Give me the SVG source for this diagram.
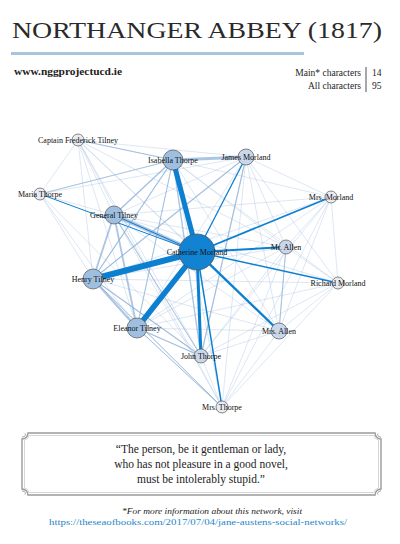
<svg xmlns="http://www.w3.org/2000/svg" width="400" height="544" viewBox="0 0 400 544">
<style>
.lbl{font-family:"Liberation Serif","Times New Roman",serif;font-size:8px;fill:#111;text-anchor:middle}
.n{stroke:#555;stroke-width:0.7}
.main{fill:#1282d2}
.med{fill:#9fbfe0}
.lt{fill:#c9d7ea}
.vlt{fill:#e9ebf3}
.e{stroke:#9dbbdc;stroke-opacity:0.5;stroke-width:0.7;fill:none}
.f{stroke:#8fb2d8;stroke-opacity:0.75;fill:none}
.c{stroke:#0c7fd0;fill:none}
.hd{font-family:"Liberation Serif","Times New Roman",serif;fill:#222}
</style>
<rect width="400" height="544" fill="#fff"/>
<text class="hd" x="12" y="38" font-size="23" fill="#333" style="fill:#2a2a2a" textLength="370" lengthAdjust="spacingAndGlyphs">NORTHANGER ABBEY (1817)</text>
<rect x="11" y="52" width="293" height="3" fill="#a9c5dd"/>
<text class="hd" x="14" y="75" font-size="9.5" font-weight="bold" textLength="108" lengthAdjust="spacingAndGlyphs">www.nggprojectucd.ie</text>
<text class="hd" x="361" y="76" font-size="9.5" text-anchor="end">Main* characters</text>
<text class="hd" x="361" y="89" font-size="9.5" text-anchor="end">All characters</text>
<line x1="366" y1="67" x2="366" y2="92" stroke="#222" stroke-width="0.8"/>
<text class="hd" x="372" y="76" font-size="9.5">14</text>
<text class="hd" x="372" y="89" font-size="9.5">95</text>

<g id="connectors">
<path class="e" d="M78,140L173,160M78,140L246,157M78,140L114,215M78,140L197,252M78,140L93,279M78,140L137,328M78,140L201,356M78,140L222,407M78,140L279,331M78,140L40,194M78,140L286,247"/>
<path class="e" d="M173,160L40,194M173,160L331,197M173,160L286,247M173,160L338,283M173,160L279,331M173,160L222,407M173,160L93,279M173,160L137,328M173,160L114,215"/>
<path class="e" d="M246,157L40,194M246,157L114,215M246,157L331,197M246,157L286,247M246,157L93,279M246,157L338,283M246,157L137,328M246,157L279,331M246,157L201,356M246,157L222,407"/>
<path class="e" d="M40,194L114,215M40,194L93,279M40,194L137,328M40,194L201,356"/>
<path class="e" d="M114,215L331,197M114,215L286,247M114,215L338,283M114,215L279,331M114,215L201,356M114,215L222,407"/>
<path class="e" d="M331,197L286,247M331,197L93,279M331,197L338,283M331,197L137,328M331,197L279,331M331,197L201,356M331,197L222,407"/>
<path class="e" d="M286,247L93,279M286,247L338,283M286,247L137,328M286,247L279,331M286,247L201,356M286,247L222,407"/>
<path class="e" d="M93,279L338,283M93,279L279,331M93,279L201,356M93,279L222,407"/>
<path class="e" d="M338,283L137,328M338,283L279,331M338,283L201,356M338,283L222,407"/>
<path class="e" d="M137,328L279,331M137,328L201,356M137,328L222,407"/>
<path class="e" d="M279,331L201,356M279,331L222,407M201,356L222,407"/>
<path class="f" stroke-width="3" d="M173,160L246,157"/>
<path class="f" stroke-width="4" stroke-opacity="0.55" d="M114,215L197,252"/>
<path class="f" stroke-width="2.2" d="M93,279L137,328"/>
<path class="f" stroke-width="1.8" d="M114,215L93,279"/>
<path class="f" stroke-width="1.8" d="M114,215L137,328"/>
<path class="f" stroke-width="1.4" d="M173,160L201,356"/>
<path class="f" stroke-width="1.4" d="M173,160L114,215"/>
<path class="f" stroke-width="1.2" d="M137,328L201,356M93,279L201,356M173,160L93,279"/>
<path class="f" stroke-width="1.2" d="M246,157L201,356M246,157L93,279"/>
<path class="f" stroke-width="1" d="M279,331L286,247M78,140L173,160"/>
<path class="f" stroke-width="1" d="M137,328L222,407M93,279L222,407M173,160L137,328"/>
<path class="f" stroke-width="0.9" d="M40,194L173,160M114,215L201,356"/>
<g class="c">
<path stroke-width="5" d="M173,160L197,252"/>
<path stroke-width="6" d="M93,279L197,252"/>
<path stroke-width="5.5" d="M137,328L197,252"/>
<path stroke-width="3" d="M201,356L197,252"/>
<path stroke-width="1.5" d="M222,407L197,252"/>
<path stroke-width="2.4" d="M279,331L197,252"/>
<path stroke-width="2" d="M286,247L197,252"/>
<path stroke-width="1.8" d="M331,197L197,252"/>
<path stroke-width="1.5" d="M338,283L197,252"/>
<path stroke-width="1.3" d="M246,157L197,252"/>
<path stroke-width="1" d="M114,215L197,252"/>
<path stroke-width="1" d="M40,194L197,252"/>
</g>
</g>

<g id="captain-frederick-tilney"><circle class="n vlt" cx="78" cy="140" r="6"/><text class="lbl" x="78" y="142.5">Captain Frederick Tilney</text></g>
<g id="isabella-thorpe"><circle class="n med" cx="173" cy="160" r="10"/><text class="lbl" x="173" y="162.5">Isabella Thorpe</text></g>
<g id="james-morland"><circle class="n lt" cx="246" cy="157" r="8"/><text class="lbl" x="246" y="159.5">James Morland</text></g>
<g id="maria-thorpe"><circle class="n vlt" cx="40" cy="194" r="6"/><text class="lbl" x="40" y="196.5">Maria Thorpe</text></g>
<g id="general-tilney"><circle class="n med" cx="114" cy="215" r="9"/><text class="lbl" x="114" y="217.5">General Tilney</text></g>
<g id="mrs-morland"><circle class="n vlt" cx="331" cy="197" r="6"/><text class="lbl" x="331" y="199.5">Mrs. Morland</text></g>
<g id="catherine-morland"><circle class="n main" cx="197" cy="252" r="18"/><text class="lbl" x="197" y="254.5">Catherine Morland</text></g>
<g id="mr-allen"><circle class="n lt" cx="286" cy="247" r="7"/><text class="lbl" x="286" y="249.5">Mr. Allen</text></g>
<g id="henry-tilney"><circle class="n med" cx="93" cy="279" r="10"/><text class="lbl" x="93" y="281.5">Henry Tilney</text></g>
<g id="richard-morland"><circle class="n vlt" cx="338" cy="283" r="6"/><text class="lbl" x="338" y="285.5">Richard Morland</text></g>
<g id="eleanor-tilney"><circle class="n med" cx="137" cy="328" r="10"/><text class="lbl" x="137" y="330.5">Eleanor Tilney</text></g>
<g id="mrs-allen"><circle class="n lt" cx="279" cy="331" r="8"/><text class="lbl" x="279" y="333.5">Mrs. Allen</text></g>
<g id="john-thorpe"><circle class="n lt" cx="201" cy="356" r="7"/><text class="lbl" x="201" y="358.5">John Thorpe</text></g>
<g id="mrs-thorpe"><circle class="n vlt" cx="222" cy="407" r="6"/><text class="lbl" x="222" y="409.5">Mrs. Thorpe</text></g>

<g id="quote">
<path d="M28,433H375A6,6 0 0 0 381,439V489A6,6 0 0 0 375,495H28A6,6 0 0 0 22,489V439A6,6 0 0 0 28,433Z" fill="#fff" stroke="#9a9a9a" stroke-width="1.4"/>
<path d="M29,435.5H374A5.5,5.5 0 0 0 378.5,440V488A5.5,5.5 0 0 0 374,492.5H29A5.5,5.5 0 0 0 24.5,488V440A5.5,5.5 0 0 0 29,435.5Z" fill="none" stroke="#c4c4c4" stroke-width="0.7"/>
<g fill="none" stroke="#888" stroke-width="0.8">
<path d="M22,437c3,0 4,-2 3,-3.5"/>
<path d="M381,437c-3,0 -4,-2 -3,-3.5"/>
<path d="M22,491c3,0 4,2 3,3.5"/>
<path d="M381,491c-3,0 -4,2 -3,3.5"/>
</g>
<g class="hd" font-size="11.5" text-anchor="middle">
<text x="201" y="453">“The person, be it gentleman or lady,</text>
<text x="201" y="468">who has not pleasure in a good novel,</text>
<text x="201" y="483">must be intolerably stupid.”</text>
</g>
</g>
<text class="hd" x="212" y="514" font-size="8" font-style="italic" text-anchor="middle" textLength="180" lengthAdjust="spacingAndGlyphs">*For more information about this network, visit</text>
<text x="198" y="525" font-family="'Liberation Serif','Times New Roman',serif" font-size="8.5" fill="#1f86c8" text-anchor="middle" textLength="298" lengthAdjust="spacingAndGlyphs">https://theseaofbooks.com/2017/07/04/jane-austens-social-networks/</text>
</svg>
